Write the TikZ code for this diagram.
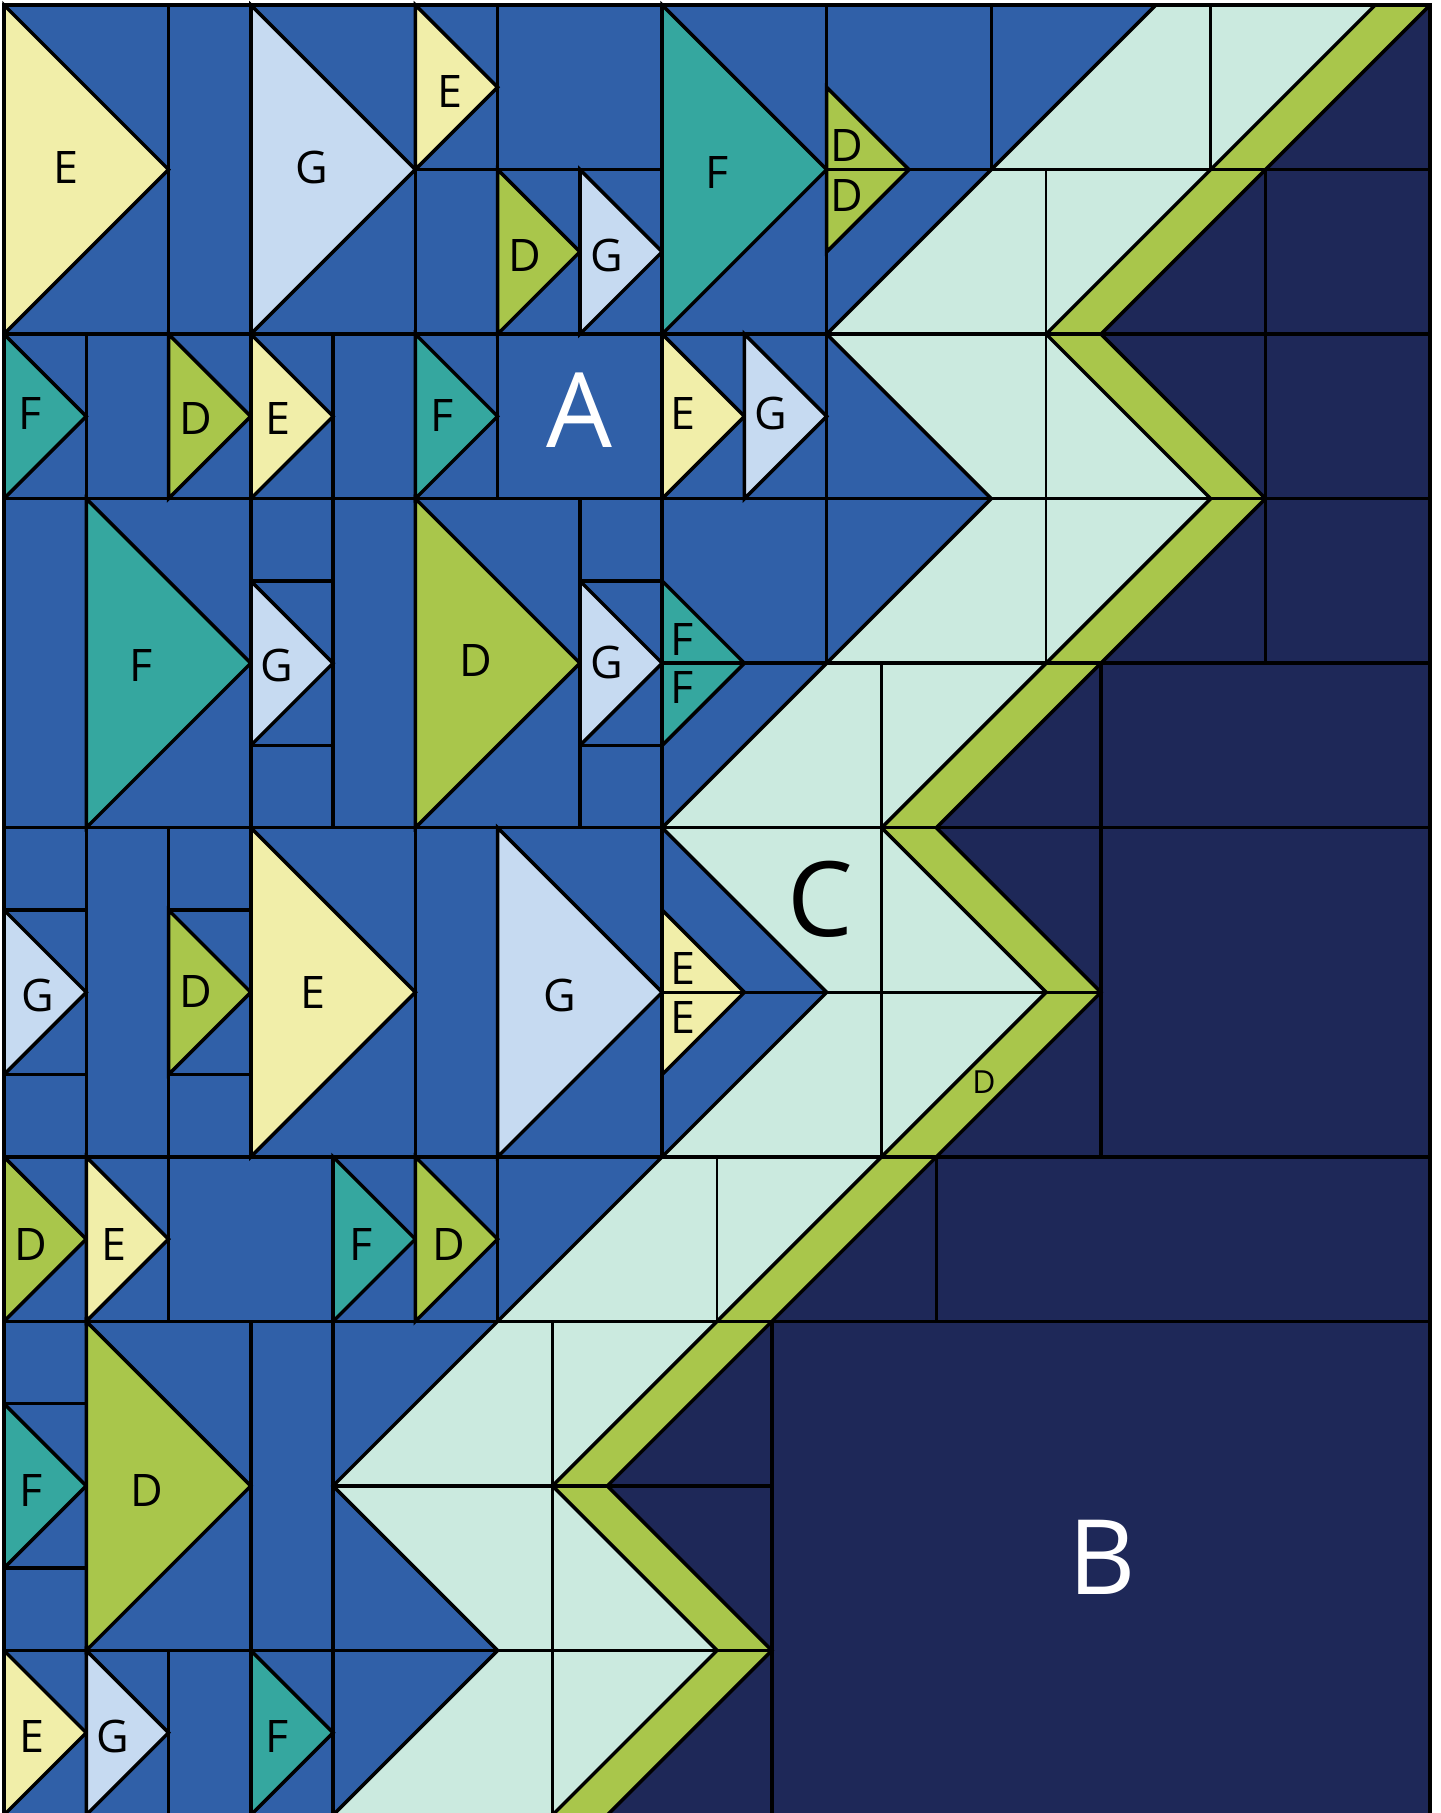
\documentclass[tikz,border=0pt]{standalone}
\usepackage{fontspec}
\setmainfont{Open Sans}
\usepackage{tikz}

\definecolor{skyblue}{HTML}{3060A8}
\definecolor{navy}{HTML}{1E2858}
\definecolor{mint}{HTML}{CBEADF}
\definecolor{lime}{HTML}{A9C64B}
\definecolor{fabD}{HTML}{A9C64B}
\definecolor{fabE}{HTML}{F1EEA9}
\definecolor{fabF}{HTML}{35A79F}
\definecolor{fabG}{HTML}{C6DAF1}

\begin{document}
\begin{tikzpicture}[
  yscale=-1,
  seam/.style={draw=black, line width=1.2pt},
  thinseam/.style={draw=black, line width=0.8pt},
  goose/.style={fill=#1, draw=black, line width=1.2pt},
  goose/.default={fabE},
  lbl/.style={font=\fontsize{15.5}{18}\selectfont, inner sep=0pt, text=black},
  tinylbl/.style={font=\fontsize{11}{13}\selectfont, inner sep=0pt, text=black},
  biglbl/.style={font=\fontsize{36}{40}\selectfont, inner sep=0pt, text=#1},
  biglbl/.default={white}
]
  \useasboundingbox (-0.0486,-0.0608) rectangle (17.455,21.976);

  % background fabrics
  \fill[skyblue] (0,0) rectangle (17.3333,22);
  \fill[mint] (14,0) -- (10,4) -- (12,6) -- (8,10) -- (10,12) -- (4,18) -- (6,20) -- (4,22)
    -- (6.6667,22) -- (8.6667,20) -- (6.6667,18) -- (12.6667,12) -- (10.6667,10)
    -- (14.6667,6) -- (12.6667,4) -- (16.6667,0) -- cycle;
  \fill[lime] (16.6667,0) -- (12.6667,4) -- (14.6667,6) -- (10.6667,10) -- (12.6667,12)
    -- (6.6667,18) -- (8.6667,20) -- (6.6667,22) -- (7.3333,22) -- (9.3333,20) -- (7.3333,18)
    -- (13.3333,12) -- (11.3333,10) -- (15.3333,6) -- (13.3333,4) -- (17.3333,0) -- cycle;
  \fill[navy] (17.3333,0) -- (13.3333,4) -- (15.3333,6) -- (11.3333,10) -- (13.3333,12)
    -- (7.3333,18) -- (9.3333,20) -- (7.3333,22) -- (17.3333,22) -- cycle;

  % rows 0-4
  \filldraw[goose=fabE] (0,0) -- (2,2) -- (0,4) -- cycle;
  \filldraw[goose=fabG] (3,0) -- (5,2) -- (3,4) -- cycle;
  \filldraw[goose=fabE] (5,0) -- (6,1) -- (5,2) -- cycle;
  \filldraw[goose=fabD] (6,2) -- (7,3) -- (6,4) -- cycle;
  \filldraw[goose=fabG] (7,2) -- (8,3) -- (7,4) -- cycle;
  \filldraw[goose=fabF] (8,0) -- (10,2) -- (8,4) -- cycle;
  \filldraw[goose=fabD] (10,1) -- (11,2) -- (10,3) -- cycle;
  % rows 4-6
  \filldraw[goose=fabF] (0,4) -- (1,5) -- (0,6) -- cycle;
  \filldraw[goose=fabD] (2,4) -- (3,5) -- (2,6) -- cycle;
  \filldraw[goose=fabE] (3,4) -- (4,5) -- (3,6) -- cycle;
  \filldraw[goose=fabF] (5,4) -- (6,5) -- (5,6) -- cycle;
  \filldraw[goose=fabE] (8,4) -- (9,5) -- (8,6) -- cycle;
  \filldraw[goose=fabG] (9,4) -- (10,5) -- (9,6) -- cycle;
  % rows 6-10
  \filldraw[goose=fabF] (1,6) -- (3,8) -- (1,10) -- cycle;
  \filldraw[goose=fabG] (3,7) -- (4,8) -- (3,9) -- cycle;
  \filldraw[goose=fabD] (5,6) -- (7,8) -- (5,10) -- cycle;
  \filldraw[goose=fabG] (7,7) -- (8,8) -- (7,9) -- cycle;
  \filldraw[goose=fabF] (8,7) -- (9,8) -- (8,9) -- cycle;
  % rows 10-14
  \filldraw[goose=fabG] (0,11) -- (1,12) -- (0,13) -- cycle;
  \filldraw[goose=fabD] (2,11) -- (3,12) -- (2,13) -- cycle;
  \filldraw[goose=fabE] (3,10) -- (5,12) -- (3,14) -- cycle;
  \filldraw[goose=fabG] (6,10) -- (8,12) -- (6,14) -- cycle;
  \filldraw[goose=fabE] (8,11) -- (9,12) -- (8,13) -- cycle;
  % rows 14-16
  \filldraw[goose=fabD] (0,14) -- (1,15) -- (0,16) -- cycle;
  \filldraw[goose=fabE] (1,14) -- (2,15) -- (1,16) -- cycle;
  \filldraw[goose=fabF] (4,14) -- (5,15) -- (4,16) -- cycle;
  \filldraw[goose=fabD] (5,14) -- (6,15) -- (5,16) -- cycle;
  % rows 16-22
  \filldraw[goose=fabF] (0,17) -- (1,18) -- (0,19) -- cycle;
  \filldraw[goose=fabD] (1,16) -- (3,18) -- (1,20) -- cycle;
  \filldraw[goose=fabE] (0,20) -- (1,21) -- (0,22) -- cycle;
  \filldraw[goose=fabG] (1,20) -- (2,21) -- (1,22) -- cycle;
  \filldraw[goose=fabF] (3,20) -- (4,21) -- (3,22) -- cycle;

  % horizontal seams
  \draw[seam] (5,2) -- (8,2) (10,2) -- (17.3333,2);
  \draw[seam] (0,4) -- (17.3333,4);
  \draw[seam] (0,6) -- (17.3333,6);
  \draw[seam] (3,7) -- (4,7) (7,7) -- (8,7) (3,9) -- (4,9) (7,9) -- (8,9);
  \draw[seam] (8,8) -- (17.3333,8);
  \draw[seam] (0,10) -- (17.3333,10);
  \draw[seam] (0,11) -- (1,11) (2,11) -- (3,11) (0,13) -- (1,13) (2,13) -- (3,13);
  \draw[seam] (8,12) -- (13.3333,12);
  \draw[seam] (0,14) -- (17.3333,14);
  \draw[seam] (0,16) -- (17.3333,16);
  \draw[seam] (0,17) -- (1,17) (0,19) -- (1,19);
  \draw[seam] (4,18) -- (9.3333,18);
  \draw[seam] (0,20) -- (9.3333,20);

  % vertical seams
  \draw[seam] (1,4) -- (1,22);
  \draw[seam] (2,0) -- (2,6) (2,10) -- (2,16) (2,20) -- (2,22);
  \draw[seam] (3,0) -- (3,14) (3,16) -- (3,22);
  \draw[seam] (4,4) -- (4,10) (4,14) -- (4,22);
  \draw[seam] (5,0) -- (5,16);
  \draw[seam] (6,0) -- (6,6) (6,10) -- (6,16);
  \draw[seam] (7,2) -- (7,4) (7,6) -- (7,10);
  \draw[seam] (8,0) -- (8,14);
  \draw[seam] (9,4) -- (9,6);
  \draw[seam] (10,0) -- (10,8);
  \draw[seam] (12,0) -- (12,2);
  \draw[thinseam] (14.6667,0) -- (14.6667,2) (12.6667,2) -- (12.6667,8)
    (10.6667,8) -- (10.6667,14) (8.6667,14) -- (8.6667,16) (6.6667,16) -- (6.6667,22);
  \draw[seam] (15.3333,2) -- (15.3333,8) (13.3333,8) -- (13.3333,14)
    (11.3333,14) -- (11.3333,16) (9.3333,16) -- (9.3333,22);

  % chevron edges
  \draw[seam] (14,0) -- (10,4) -- (12,6) -- (8,10) -- (10,12) -- (4,18) -- (6,20) -- (4,22);
  \draw[seam] (16.6667,0) -- (12.6667,4) -- (14.6667,6) -- (10.6667,10) -- (12.6667,12)
    -- (6.6667,18) -- (8.6667,20) -- (6.6667,22);
  \draw[seam] (17.3333,0) -- (13.3333,4) -- (15.3333,6) -- (11.3333,10) -- (13.3333,12)
    -- (7.3333,18) -- (9.3333,20) -- (7.3333,22);

  % quilt outline
  \draw[seam] (0,22) -- (0,0) -- (17.3333,0) -- (17.3333,22);

  % fabric labels
  \node[lbl] (e1) at (0.75,1.98) {E};
  \node[lbl] (g1) at (3.74,1.98) {G};
  \node[lbl] (e2) at (5.42,1.05) {E};
  \node[lbl] (d1) at (6.33,3.04) {D};
  \node[lbl] (g2) at (7.33,3.04) {G};
  \node[lbl] (f1) at (8.67,2.04) {F};
  \node[lbl] (d2) at (10.25,1.71) {D};
  \node[lbl] (d3) at (10.25,2.31) {D};
  \node[lbl] (f2) at (0.32,4.97) {F};
  \node[lbl] (d4) at (2.33,5.03) {D};
  \node[lbl] (e3) at (3.33,5.03) {E};
  \node[lbl] (f3) at (5.33,4.99) {F};
  \node[lbl] (e4) at (8.25,4.97) {E};
  \node[lbl] (g3) at (9.32,4.97) {G};
  \node[lbl] (f4) at (1.67,8.03) {F};
  \node[lbl] (g4) at (3.32,8.03) {G};
  \node[lbl] (d5) at (5.74,7.97) {D};
  \node[lbl] (g5) at (7.33,7.99) {G};
  \node[lbl] (f5) at (8.24,7.71) {F};
  \node[lbl] (f6) at (8.24,8.29) {F};
  \node[lbl] (g6) at (0.41,12.04) {G};
  \node[lbl] (d6) at (2.33,11.99) {D};
  \node[lbl] (e5) at (3.75,12.0) {E};
  \node[lbl] (g7) at (6.75,12.04) {G};
  \node[lbl] (e6) at (8.25,11.71) {E};
  \node[lbl] (e7) at (8.25,12.31) {E};
  \node[lbl] (d7) at (0.33,15.06) {D};
  \node[lbl] (e8) at (1.34,15.06) {E};
  \node[lbl] (f7) at (4.34,15.06) {F};
  \node[lbl] (d8) at (5.41,15.06) {D};
  \node[lbl] (f8) at (0.33,18.06) {F};
  \node[lbl] (d9) at (1.74,18.06) {D};
  \node[lbl] (e9) at (0.34,21.05) {E};
  \node[lbl] (g8) at (1.32,21.05) {G};
  \node[lbl] (f9) at (3.32,21.05) {F};
  \node[tinylbl] (d10) at (11.91,13.09) {D};

  % section labels
  \node[biglbl] (secA) at (7.0,4.93) {A};
  \node[biglbl] (secB) at (13.35,18.87) {B};
  \node[biglbl=black] (secC) at (9.92,10.87) {C};
\end{tikzpicture}
\end{document}
